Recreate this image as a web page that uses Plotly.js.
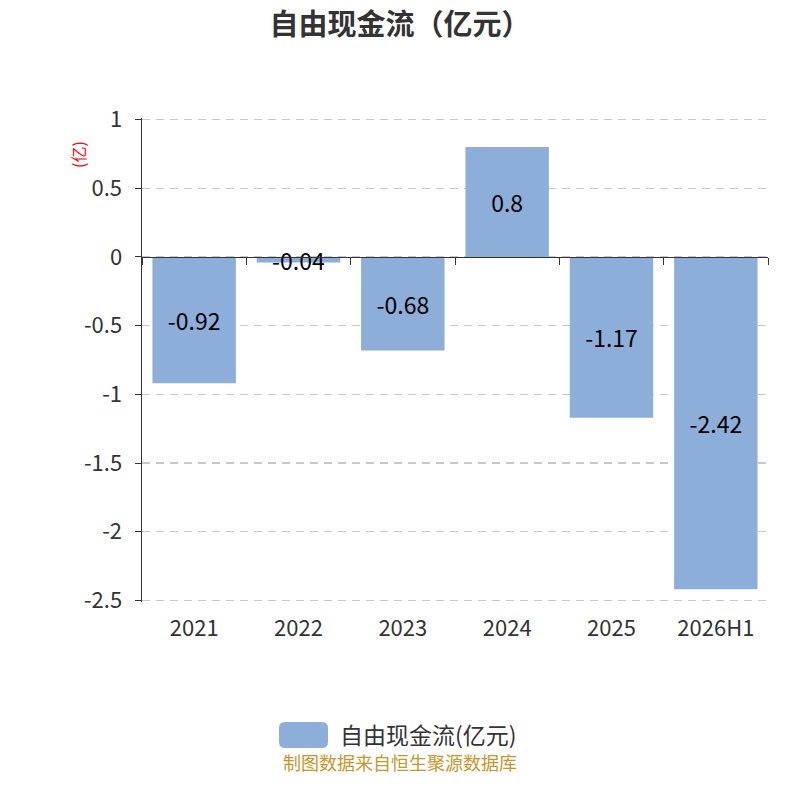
<!DOCTYPE html>
<html>
<head>
<meta charset="utf-8">
<script src="https://cdn.plot.ly/plotly-3.0.1.min.js"></script>
<style>
  body { margin: 0; background: #fff; }
  #chart { width: 800px; height: 800px; }
</style>
</head>
<body>
<div id="chart"></div>
<script>
var years = ['2021', '2022', '2023', '2024', '2025', '2026H1'];
var fcf = [-0.92, -0.04, -0.68, 0.8, -1.17, -2.42];
var yTicks = [1, 0.5, 0, -0.5, -1, -1.5, -2, -2.5];
var seriesName = '自由现金流(亿元)';

var font = '"Noto Sans CJK SC", "Noto Sans", sans-serif';
var barColor = '#8eaeda';
var yMin = -2.5, yMax = 1;
var pad = 0.012; // keeps the edge gridlines visible

var bars = {
  type: 'bar',
  x: years,
  y: fcf,
  name: seriesName,
  marker: { color: barColor },
  text: fcf.map(function (v) { return String(v); }),
  textposition: 'inside',
  insidetextanchor: 'middle',
  constraintext: 'none',
  textfont: { color: '#000', size: 23, family: font },
  hoverinfo: 'x+y',
  showlegend: false
};

// invisible copy on an overlay axis that sits on the zero line (boundary ticks)
var ghost = {
  type: 'bar',
  x: years,
  y: fcf.map(function () { return 0; }),
  xaxis: 'x2',
  marker: { color: 'rgba(0,0,0,0)' },
  hoverinfo: 'skip',
  showlegend: false
};

// pixel -> paper coords (plot box 142..768 x 118..602)
function px(x) { return (x - 142) / 626; }
function py(y) { return (602 - y) / 484; }
function roundRect(x0, y0, x1, y1, r) {
  return 'M' + px(x0 + r) + ',' + py(y0) +
    ' L' + px(x1 - r) + ',' + py(y0) +
    ' Q' + px(x1) + ',' + py(y0) + ' ' + px(x1) + ',' + py(y0 + r) +
    ' L' + px(x1) + ',' + py(y1 - r) +
    ' Q' + px(x1) + ',' + py(y1) + ' ' + px(x1 - r) + ',' + py(y1) +
    ' L' + px(x0 + r) + ',' + py(y1) +
    ' Q' + px(x0) + ',' + py(y1) + ' ' + px(x0) + ',' + py(y1 - r) +
    ' L' + px(x0) + ',' + py(y0 + r) +
    ' Q' + px(x0) + ',' + py(y0) + ' ' + px(x0 + r) + ',' + py(y0) + ' Z';
}

var layout = {
  width: 800,
  height: 800,
  margin: { l: 142, r: 32, t: 118, b: 198 },
  paper_bgcolor: '#fff',
  plot_bgcolor: '#fff',
  bargap: 0.2,
  font: { family: font, color: '#333' },
  title: {
    text: '<b>自由现金流（亿元）</b>',
    x: 0.5,
    xanchor: 'center',
    y: 0.969,
    yanchor: 'middle',
    font: { size: 29, color: '#333', family: font }
  },
  xaxis: {
    type: 'category',
    categoryarray: years,
    showline: false,
    showgrid: false,
    zeroline: false,
    ticks: '',
    ticklabelstandoff: 11,
    tickfont: { size: 22, color: '#333', family: font }
  },
  xaxis2: {
    type: 'category',
    categoryarray: years,
    overlaying: 'x',
    anchor: 'free',
    position: (0 - (yMin - pad)) / (yMax - yMin + 2 * pad),
    side: 'bottom',
    showline: true,
    linecolor: '#333',
    linewidth: 1.5,
    ticks: 'outside',
    tickson: 'boundaries',
    ticklen: 7,
    tickcolor: '#333',
    showticklabels: false,
    showgrid: false,
    zeroline: false
  },
  yaxis: {
    range: [yMin - pad, yMax + pad],
    tickvals: yTicks,
    ticktext: yTicks.map(function (v) { return String(v); }),
    showline: true,
    linecolor: '#333',
    linewidth: 1.5,
    ticks: 'outside',
    ticklen: 6,
    tickcolor: '#333',
    ticklabelstandoff: 8,
    tickfont: { size: 22, color: '#333', family: font },
    showgrid: true,
    gridcolor: '#c8c8c8',
    griddash: '8px,6px',
    gridwidth: 1.3,
    zeroline: false
  },
  shapes: [
    {
      type: 'path', xref: 'paper', yref: 'paper',
      path: roundRect(279, 722, 328, 748, 6),
      fillcolor: barColor, line: { width: 0 }
    }
  ],
  annotations: [
    {
      text: '(亿)', xref: 'paper', yref: 'paper',
      x: px(78), xanchor: 'center', y: py(155), yanchor: 'middle',
      textangle: -90, showarrow: false,
      font: { size: 16, color: '#ff0000', family: font }
    },
    {
      text: seriesName, xref: 'paper', yref: 'paper',
      x: px(338), xanchor: 'left',
      y: py(734), yanchor: 'middle',
      showarrow: false,
      font: { size: 23, color: '#333', family: font }
    },
    {
      text: '制图数据来自恒生聚源数据库', xref: 'paper', yref: 'paper',
      x: px(400), xanchor: 'center',
      y: py(762), yanchor: 'middle',
      showarrow: false,
      font: { size: 18, color: '#c8962a', family: font }
    }
  ],
  showlegend: false
};

Plotly.newPlot('chart', [ghost, bars], layout, { displayModeBar: false, staticPlot: true });
</script>
</body>
</html>
